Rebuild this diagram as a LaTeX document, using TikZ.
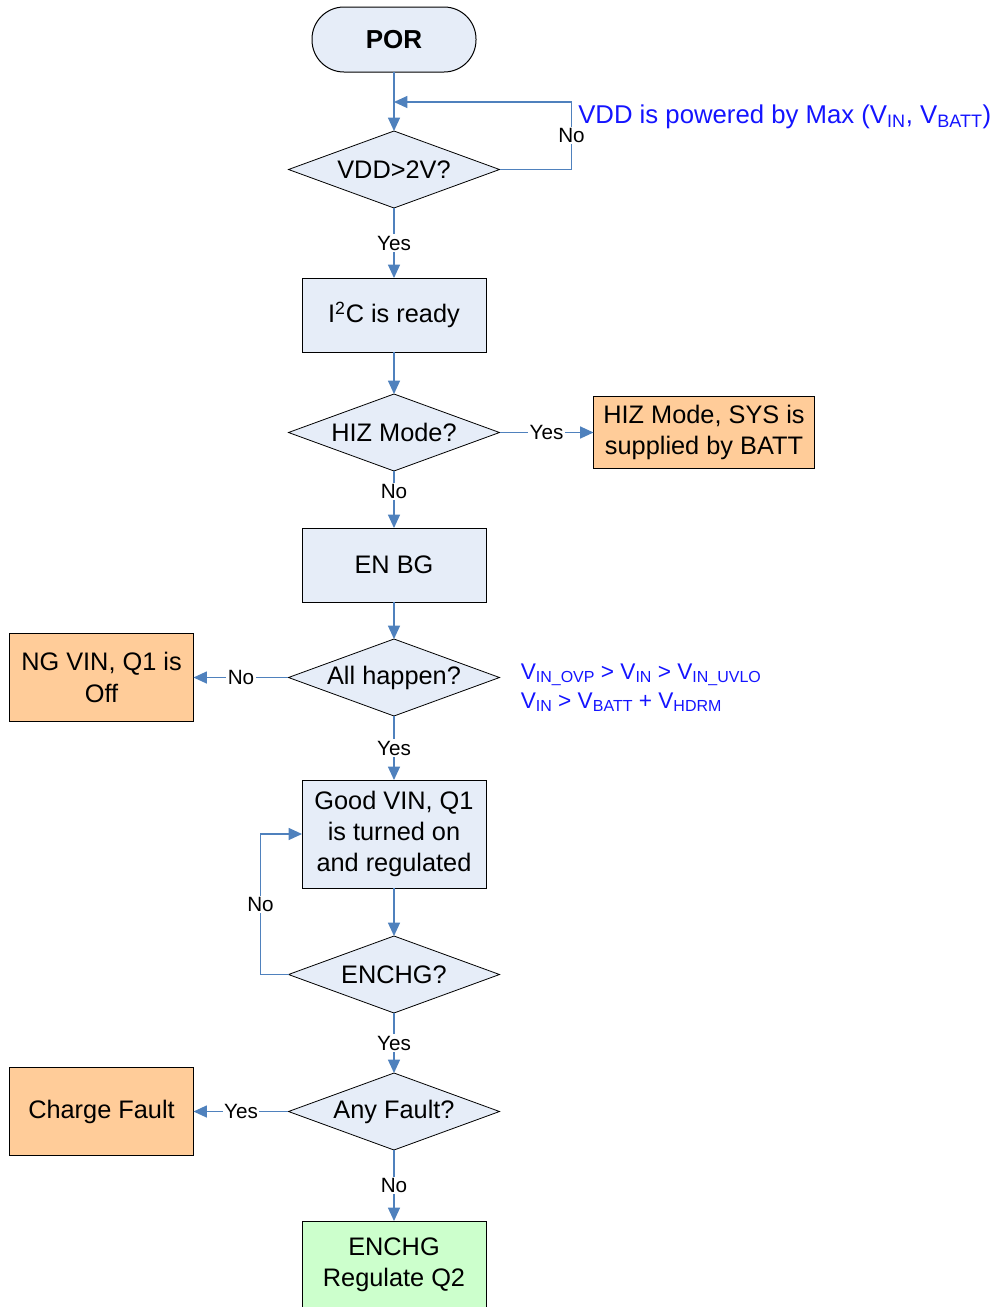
\documentclass[tikz,border=0pt]{standalone}
\usepackage{fontspec}
\setmainfont{Liberation Sans}
\usetikzlibrary{arrows.meta,positioning,shapes.geometric}
\definecolor{Node}{HTML}{E6EDF8}
\definecolor{Link}{HTML}{4F81BD}
\definecolor{Warn}{HTML}{FFCC99}
\definecolor{Done}{HTML}{CCFFCC}
\definecolor{Note}{HTML}{1414FF}
\newcommand{\lowidx}[1]{\raisebox{-0.25ex}{\fontsize{12}{12}\selectfont #1}}
\tikzset{
  terminal/.style={rectangle, rounded corners=24pt, draw=black, line width=0.75pt,
    fill=Node, minimum width=123pt, minimum height=48.75pt, outer sep=0pt,
    font=\fontsize{19.5}{23}\selectfont\bfseries},
  process/.style={rectangle, draw=black, line width=0.75pt, fill=Node,
    minimum width=138pt, minimum height=55.5pt, align=center, outer sep=0pt,
    font=\fontsize{19}{23.5}\selectfont},
  decision/.style={diamond, aspect=2.74, draw=black, line width=0.6pt, fill=Node,
    minimum width=158.25pt, minimum height=57.75pt, inner sep=0pt, outer sep=0pt,
    font=\fontsize{19}{23.5}\selectfont},
  result/.style={process, fill=Warn, minimum height=66pt},
  done/.style={process, fill=Done, minimum height=66pt},
  arrow/.style={-{Triangle[length=10pt,width=9pt]}, line width=0.9pt, draw=Link},
  answer/.style={fill=white, inner sep=1pt, font=\fontsize{15.5}{18}\selectfont},
  remark/.style={inner sep=0pt, text=Note, align=left}
}

\begin{document}
\begin{tikzpicture}
  \useasboundingbox (0,0) rectangle (747.75pt,-980.25pt);
  \node[terminal] (por) at (295.5pt,-29.625pt) {POR};
  \node[decision, below=44.25pt of por] (vdd) {VDD>2V?};
  \node[process, below=52.5pt of vdd] (i2c) {I\textsuperscript{2}C is ready};
  \node[decision, below=31.5pt of i2c] (hiz) {HIZ Mode?};
  \node[result, right=70.5pt of hiz, minimum width=165.75pt, minimum height=54pt] (hizsys) {HIZ Mode, SYS is\\supplied by BATT};
  \node[process, below=42.75pt of hiz] (enbg) {EN BG};
  \node[decision, below=27.75pt of enbg] (allok) {All happen?};
  \node[result, left=71.25pt of allok] (ngvin) {NG VIN, Q1 is\\Off};
  \node[process, below=48pt of allok, minimum height=81pt] (goodvin) {Good VIN, Q1\\is turned on\\and regulated};
  \node[decision, below=36pt of goodvin] (enchg) {ENCHG?};
  \node[decision, below=45pt of enchg] (fault) {Any Fault?};
  \node[result, left=71.25pt of fault] (chgfault) {Charge Fault};
  \node[done, below=53.25pt of fault] (charge) {ENCHG\\Regulate Q2};
  \coordinate[below=22.5pt of por] (merge);
  \node[remark, right=138pt of merge, yshift=-11.25pt, font=\fontsize{19.3}{22}\selectfont] (vddnote) {VDD is powered by Max (V\textsubscript{IN}, V\textsubscript{BATT})};
  \node[remark, right=15.75pt of allok, yshift=-8pt, font=\fontsize{17}{21.75}\selectfont] (vinnote) {V\lowidx{IN\_OVP} > V\lowidx{IN} > V\lowidx{IN\_UVLO}\\V\lowidx{IN} > V\lowidx{BATT} + V\lowidx{HDRM}};

  \draw[arrow] (por) -- (vdd);
  \draw[arrow] (vdd.east) -- ++(54pt,0) |- node[answer, pos=0.25] {No} (merge);
  \draw[arrow] (vdd) -- node[answer] {Yes} (i2c);
  \draw[arrow] (i2c) -- (hiz);
  \draw[arrow] (hiz) -- node[answer] {Yes} (hizsys);
  \draw[arrow] (hiz) -- node[answer, pos=0.36] {No} (enbg);
  \draw[arrow] (enbg) -- (allok);
  \draw[arrow] (allok) -- node[answer] {No} (ngvin);
  \draw[arrow] (allok) -- node[answer] {Yes} (goodvin);
  \draw[arrow] (goodvin) -- (enchg);
  \draw[arrow] (enchg.west) -- ++(-21pt,0) |- node[answer, pos=0.25] {No} (goodvin.west);
  \draw[arrow] (enchg) -- node[answer] {Yes} (fault);
  \draw[arrow] (fault) -- node[answer] {Yes} (chgfault);
  \draw[arrow] (fault) -- node[answer] {No} (charge);
\end{tikzpicture}
\end{document}
